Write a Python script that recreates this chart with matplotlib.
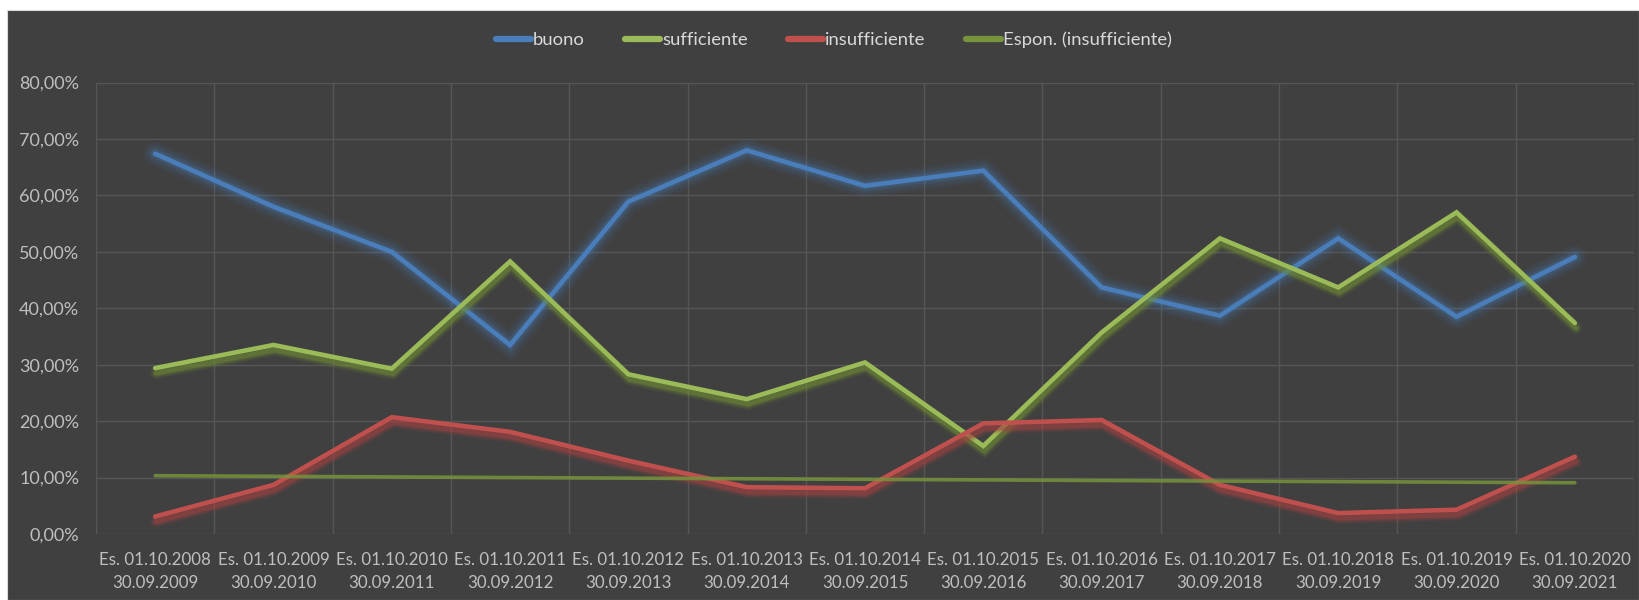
import numpy as np
import matplotlib
matplotlib.use("Agg")
import matplotlib.pyplot as plt
from matplotlib import patheffects as pe
from matplotlib.patches import Rectangle
from matplotlib.ticker import FuncFormatter, FixedLocator

plt.rcParams['font.family'] = ['Lato', 'DejaVu Sans']

# ---- data (percent) ----
periodi_inizio = ["01.10.2008", "01.10.2009", "01.10.2010", "01.10.2011", "01.10.2012",
                  "01.10.2013", "01.10.2014", "01.10.2015", "01.10.2016", "01.10.2017",
                  "01.10.2018", "01.10.2019", "01.10.2020"]
periodi_fine = ["30.09.2009", "30.09.2010", "30.09.2011", "30.09.2012", "30.09.2013",
                "30.09.2014", "30.09.2015", "30.09.2016", "30.09.2017", "30.09.2018",
                "30.09.2019", "30.09.2020", "30.09.2021"]
buono = [67.4, 58.0, 50.0, 33.5, 58.9, 68.0, 61.7, 64.4, 43.7, 38.7, 52.4, 38.5, 49.1]
sufficiente = [29.4, 33.5, 29.3, 48.3, 28.3, 23.9, 30.4, 15.6, 35.7, 52.4, 43.7, 57.0, 37.4]
insufficiente = [3.1, 8.7, 20.7, 18.1, 13.0, 8.3, 8.1, 19.6, 20.2, 8.7, 3.7, 4.3, 13.7]

labels = [f"Es. {a}\n{b}" for a, b in zip(periodi_inizio, periodi_fine)]
x = np.arange(len(labels))

# exponential trendline of 'insufficiente' (as Excel: fit ln(y) linearly)
xi = x + 1
b, a = np.polyfit(xi, np.log(np.array(insufficiente)), 1)
trend = np.exp(a) * np.exp(b * xi)

BG = '#404040'
GRID = '#565656'
TXT = '#BFBFBF'
BLUE = '#4A7EBB'
GREEN = '#9BBB59'
RED = '#C0504D'
OLIVE = '#77933C'

fig = plt.figure(figsize=(16.39, 6.0), dpi=100)
fig.patch.set_facecolor('white')
bgrect = Rectangle((7/1639, 0), 1 - 7/1639, 1 - 10/600, transform=fig.transFigure,
                   facecolor=BG, edgecolor='#D9D9D9', linewidth=0.8, zorder=-10)
fig.patches.append(bgrect)

ax = fig.add_axes([96/1639, 1 - 534/600, (1634 - 96)/1639, (534 - 82.6)/600])
ax.set_facecolor(BG)
for s in ax.spines.values():
    s.set_visible(False)

lw = 3.3

def shadow(color, lwid):
    off = (0.8, -3.6)
    return [pe.Stroke(offset=off, linewidth=lwid + 6, foreground=color, alpha=0.08),
            pe.Stroke(offset=off, linewidth=lwid + 4, foreground=color, alpha=0.14),
            pe.Stroke(offset=off, linewidth=lwid + 2, foreground=color, alpha=0.25),
            pe.Stroke(offset=off, linewidth=lwid, foreground=color, alpha=0.45),
            pe.Normal()]

def glow(color, lwid):
    return [pe.Stroke(linewidth=lwid + 14, foreground=color, alpha=0.06),
            pe.Stroke(linewidth=lwid + 10, foreground=color, alpha=0.09),
            pe.Stroke(linewidth=lwid + 6, foreground=color, alpha=0.13),
            pe.Stroke(linewidth=lwid + 3, foreground=color, alpha=0.2),
            pe.Normal()]

ax.plot(x, buono, color=BLUE, lw=lw, solid_capstyle='round', solid_joinstyle='miter',
        path_effects=glow(BLUE, lw), label='buono', zorder=3)
ax.plot(x, sufficiente, color=GREEN, lw=lw, solid_capstyle='round', solid_joinstyle='miter',
        path_effects=shadow('#6E8A35', lw), label='sufficiente', zorder=4)
ax.plot(x, insufficiente, color=RED, lw=lw, solid_capstyle='round', solid_joinstyle='miter',
        path_effects=shadow('#A04240', lw), label='insufficiente', zorder=5)
ax.plot(x, trend, color=OLIVE, lw=2.6, alpha=0.85, solid_capstyle='round',
        label='Espon. (insufficiente)', zorder=6)

ax.set_xlim(-0.5, len(labels) - 0.5)
ax.set_ylim(0, 80)
ax.set_yticks(np.arange(0, 81, 10))
ax.yaxis.set_major_formatter(FuncFormatter(lambda v, p: f"{v:.2f}".replace('.', ',') + '%'))
ax.set_xticks(x)
ax.set_xticklabels(labels, linespacing=1.55)
ax.xaxis.set_minor_locator(FixedLocator(np.arange(-0.5, len(labels), 1.0)))
ax.grid(axis='y', which='major', color=GRID, lw=1.0, zorder=1)
ax.grid(axis='x', which='minor', color=GRID, lw=1.0, zorder=1)
ax.set_axisbelow(True)
ax.tick_params(axis='both', which='both', length=0, colors=TXT)
ax.tick_params(axis='y', pad=12, labelsize=13)
ax.tick_params(axis='x', pad=13, labelsize=12.2)

leg = fig.legend(loc='center', bbox_to_anchor=(834/1639, 1 - 40/600), ncol=4, frameon=False,
                 fontsize=13.3, handlelength=1.9, handletextpad=0.1, columnspacing=2.2,
                 labelcolor='#D9D9D9')
for h in leg.legend_handles:
    h.set_path_effects([])
    h.set_linewidth(4.5)
    h.set_solid_capstyle('round')
    h.set_alpha(1)

fig.savefig('out.png', dpi=100, facecolor='white')
